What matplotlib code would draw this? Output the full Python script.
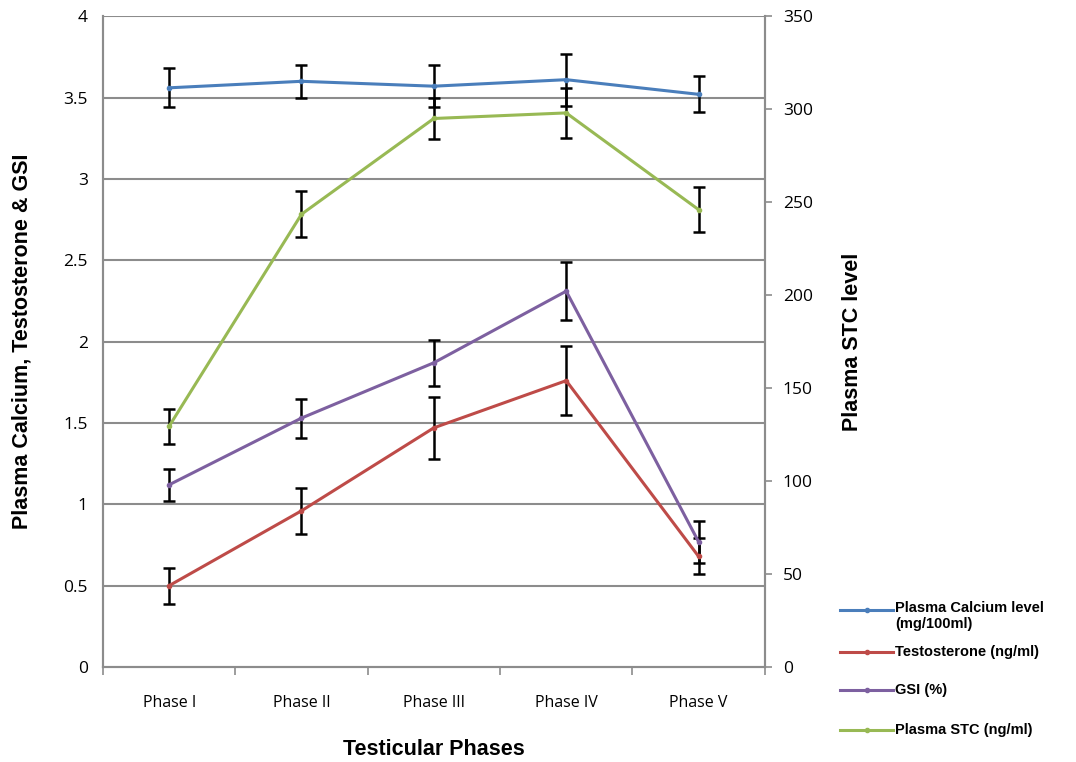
import matplotlib
matplotlib.use("Agg")
import matplotlib.pyplot as plt
from matplotlib.lines import Line2D
import numpy as np

phases = ["Phase I", "Phase II", "Phase III", "Phase IV", "Phase V"]
calcium = [3.56, 3.60, 3.57, 3.61, 3.52]
calcium_err = [0.12, 0.10, 0.13, 0.16, 0.11]
testosterone = [0.50, 0.96, 1.47, 1.76, 0.68]
testosterone_err = [0.11, 0.14, 0.19, 0.21, 0.11]
gsi = [1.12, 1.53, 1.87, 2.31, 0.77]
gsi_err = [0.10, 0.12, 0.14, 0.18, 0.13]
stc = [129.5, 243.5, 295.0, 298.0, 246.0]
stc_err = [9.5, 12.5, 11.0, 13.5, 12.0]

legend_labels = ["Plasma Calcium level\n(mg/100ml)", "Testosterone (ng/ml)", "GSI (%)", "Plasma STC (ng/ml)"]
colors = ["#4a7ebb", "#be4b48", "#7d60a0", "#98b954"]

plt.rcParams['font.family'] = ['Liberation Sans', 'DejaVu Sans']

W, H = 1076, 762
fig = plt.figure(figsize=(W / 100, H / 100), dpi=100)
ax = fig.add_axes([0.0957, 0.1247, 0.615, 0.854])
ax2 = ax.twinx()

x = np.arange(len(phases))
ax.set_xlim(-0.5, len(phases) - 0.5)
ax.set_ylim(0, 4)
ax2.set_ylim(0, 350)

for v in np.arange(0.5, 4.01, 0.5):
    ax.axhline(v, color="#8c8c8c", lw=1.5, zorder=0)

ekw = dict(ecolor="black", elinewidth=1.8, capsize=4, capthick=1.8)
for vals, errs, c in [(calcium, calcium_err, colors[0]), (testosterone, testosterone_err, colors[1]),
                      (gsi, gsi_err, colors[2])]:
    ax.errorbar(x, vals, yerr=errs, color=c, lw=2.2, marker="o", ms=3, **ekw, zorder=3)
ax2.errorbar(x, stc, yerr=stc_err, color=colors[3], lw=2.2, marker="o", ms=3, **ekw, zorder=3)

tickfont = ["Open Sans", "DejaVu Sans"]
ax.set_xticks(x)
ax.set_xticklabels(phases, fontsize=11.5, family=tickfont)
ax.set_xticks(np.arange(-0.5, len(phases), 1), minor=True)
ax.tick_params(axis="x", which="major", length=0, pad=20)
ax.tick_params(axis="x", which="minor", length=6, color="#8c8c8c", width=1.2, direction="out")
ax.set_yticks(np.arange(0, 4.01, 0.5))
ax.set_yticklabels(["0", "0.5", "1", "1.5", "2", "2.5", "3", "3.5", "4"], fontsize=12.5, family=tickfont)
ax.tick_params(axis="y", length=0, pad=11)

ax2.set_yticks(np.arange(0, 351, 50))
ax2.set_yticklabels([str(v) for v in range(0, 351, 50)], fontsize=12.5, family=tickfont)
ax2.tick_params(axis="y", length=5, color="#8c8c8c", width=1.2, pad=8)

for a in (ax, ax2):
    for s in a.spines.values():
        s.set_color("#8c8c8c")
        s.set_linewidth(1.5)
    a.spines["top"].set_visible(False)

ax.set_ylabel("Plasma Calcium, Testosterone & GSI", fontsize=15.5, fontweight="bold", labelpad=22)
ax2.set_ylabel("Plasma STC level", fontsize=15.5, fontweight="bold", labelpad=21)
ax.set_xlabel("Testicular Phases", fontsize=15.5, fontweight="bold", labelpad=20)

# legend, drawn by hand so the first entry's line sits on its first text line
entry_y = [610, 652, 690, 730]
for lab, c, yp in zip(legend_labels, colors, entry_y):
    yf = 1 - yp / H
    fig.add_artist(Line2D([840 / W, 893 / W], [yf, yf], color=c, lw=2.2, transform=fig.transFigure))
    fig.add_artist(Line2D([866.5 / W], [yf], color=c, marker="o", ms=3, transform=fig.transFigure))
    if "\n" in lab:
        fig.text(895 / W, 1 - (yp - 9) / H, lab, ha="left", va="top", fontsize=10.5,
                 fontweight="bold", linespacing=1.15)
    else:
        fig.text(895 / W, yf, lab, ha="left", va="center", fontsize=10.5, fontweight="bold")

fig.savefig("out.png", dpi=100)
